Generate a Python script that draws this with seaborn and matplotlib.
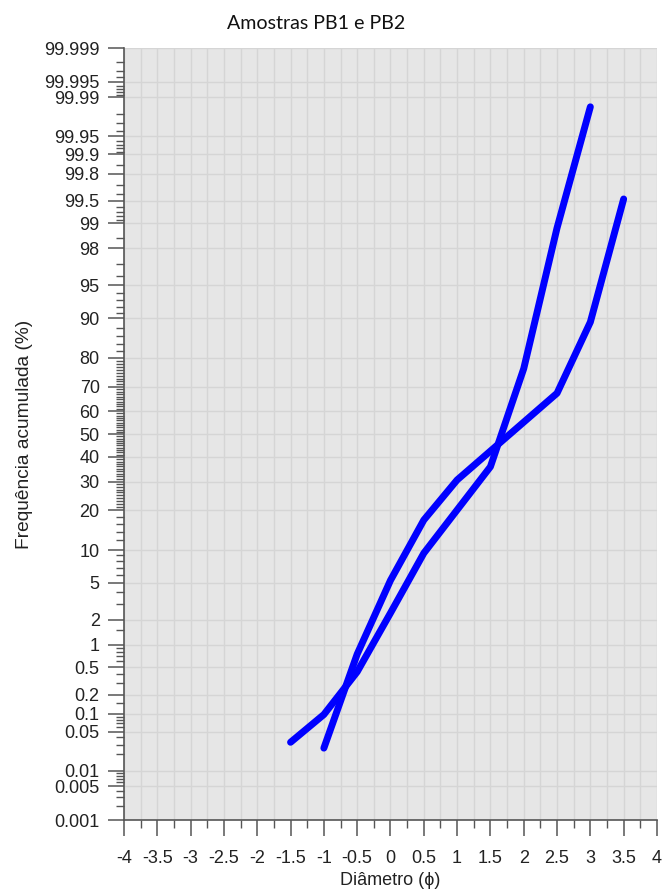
import numpy as np
import pandas as pd
import matplotlib
matplotlib.use("Agg")
import matplotlib.pyplot as plt
from matplotlib.ticker import FixedLocator, FixedFormatter, NullFormatter
import seaborn as sns
from statistics import NormalDist

# ---- data -----------------------------------------------------------------
titulo = "Amostras PB1 e PB2"
rotulo_x = "Diâmetro (ϕ)"
rotulo_y = "Frequência acumulada (%)"

phi_pb1 = [-1.5, -1.0, -0.5, 0.0, 0.5, 1.5, 2.0, 2.5, 3.0]
freq_pb1 = [0.033, 0.097, 0.43, 2.4, 9.4, 35.9, 76.5, 98.86, 99.985]

phi_pb2 = [-1.0, -0.5, 0.0, 0.5, 1.0, 2.5, 3.0, 3.5]
freq_pb2 = [0.026, 0.75, 5.3, 17.1, 30.6, 67.4, 89.2, 99.53]

x_ticks = [-4, -3.5, -3, -2.5, -2, -1.5, -1, -0.5, 0, 0.5, 1, 1.5, 2, 2.5, 3, 3.5, 4]
x_labels = ["-4", "-3.5", "-3", "-2.5", "-2", "-1.5", "-1", "-0.5", "0", "0.5",
            "1", "1.5", "2", "2.5", "3", "3.5", "4"]
x_minor = [-3.75, -3.25, -2.75, -2.25, -1.75, -1.25, -0.75, -0.25,
           0.25, 0.75, 1.25, 1.75, 2.25, 2.75, 3.25, 3.75]

y_ticks = [0.001, 0.005, 0.01, 0.05, 0.1, 0.2, 0.5, 1, 2, 5, 10, 20, 30, 40, 50,
           60, 70, 80, 90, 95, 98, 99, 99.5, 99.8, 99.9, 99.95, 99.99, 99.995, 99.999]
y_labels = ["0.001", "0.005", "0.01", "0.05", "0.1", "0.2", "0.5", "1", "2", "5",
            "10", "20", "30", "40", "50", "60", "70", "80", "90", "95", "98", "99",
            "99.5", "99.8", "99.9", "99.95", "99.99", "99.995", "99.999"]
y_minor = ([0.002, 0.003, 0.004, 0.006, 0.007, 0.008, 0.009, 0.02, 0.03, 0.04,
            0.06, 0.07, 0.08, 0.09, 0.15, 0.3, 0.4, 0.6, 0.7, 0.8, 0.9, 1.5, 3, 4,
            6, 7, 8, 9, 12, 14, 16, 18]
           + [v for v in range(21, 80) if v % 10 != 0]
           + [82, 84, 86, 88, 91, 92, 93, 94, 96, 97, 98.5, 99.1, 99.2, 99.3, 99.4,
              99.6, 99.7, 99.85, 99.91, 99.92, 99.93, 99.94, 99.96, 99.97, 99.98,
              99.991, 99.992, 99.993, 99.994, 99.996, 99.997, 99.998])

df = pd.concat([
    pd.DataFrame({"phi": phi_pb1, "freq": freq_pb1, "amostra": "PB1"}),
    pd.DataFrame({"phi": phi_pb2, "freq": freq_pb2, "amostra": "PB2"}),
], ignore_index=True)

# ---- probability (normal quantile) scale -----------------------------------
_nd = NormalDist()


def _probit(p):
    p = np.clip(np.asarray(p, dtype=float) / 100.0, 1e-12, 1 - 1e-12)
    return np.vectorize(_nd.inv_cdf, otypes=[float])(p)


def _probit_inv(z):
    return 100.0 * np.vectorize(_nd.cdf, otypes=[float])(np.asarray(z, dtype=float))


# ---- style ----------------------------------------------------------------
sns.set_style("whitegrid", {
    "axes.facecolor": "#e6e6e6",
    "grid.color": "#d5d5d5",
    "axes.edgecolor": "#555555",
})
plt.rcParams["font.family"] = ["Liberation Sans", "DejaVu Sans"]

fig = plt.figure(figsize=(6.62, 8.93), dpi=100)
ax = fig.add_axes([0.1873, 0.0817, 0.8051, 0.8645])

sns.lineplot(data=df, x="phi", y="freq", units="amostra", estimator=None,
             color="#0000ff", linewidth=5.0, solid_capstyle="round",
             solid_joinstyle="round", sort=False, legend=False, ax=ax)

ax.set_yscale("function", functions=(_probit, _probit_inv))
ax.set_xlim(-4, 4)
ax.set_ylim(0.001, 99.999)

ax.xaxis.set_major_locator(FixedLocator(x_ticks))
ax.xaxis.set_major_formatter(FixedFormatter(x_labels))
ax.xaxis.set_minor_locator(FixedLocator(x_minor))
ax.xaxis.set_minor_formatter(NullFormatter())
ax.yaxis.set_major_locator(FixedLocator(y_ticks))
ax.yaxis.set_major_formatter(FixedFormatter(y_labels))
ax.yaxis.set_minor_locator(FixedLocator(y_minor))
ax.yaxis.set_minor_formatter(NullFormatter())

ax.grid(False)
ax.grid(True, axis="y", which="major", color="#d5d5d5", linewidth=1.0)
ax.grid(True, axis="x", which="both", color="#d5d5d5", linewidth=1.0)
ax.set_axisbelow(True)

for side in ("top", "right"):
    ax.spines[side].set_visible(False)
for side in ("left", "bottom"):
    ax.spines[side].set_color("#555555")
    ax.spines[side].set_linewidth(1.2)

ax.tick_params(axis="both", which="major", direction="out", length=11.5, width=1.1,
               color="#555555", labelsize=13, labelcolor="#222222")
ax.tick_params(axis="both", which="minor", direction="out", length=6, width=1.0,
               color="#555555")
ax.tick_params(axis="y", which="major", pad=6, left=True)
ax.tick_params(axis="y", which="minor", left=True)
ax.tick_params(axis="x", which="major", pad=10, bottom=True)
ax.tick_params(axis="x", which="minor", bottom=True)

ax.set_xlabel(rotulo_x, fontsize=13, color="#222222", labelpad=4)
ax.set_ylabel(rotulo_y, fontsize=13.8, color="#222222", labelpad=8)

fig.text(0.478, 0.974, titulo, ha="center", va="center", fontsize=14.1,
         family=["Lato", "DejaVu Sans"], color="#111111")

fig.savefig("out.png", dpi=100)
